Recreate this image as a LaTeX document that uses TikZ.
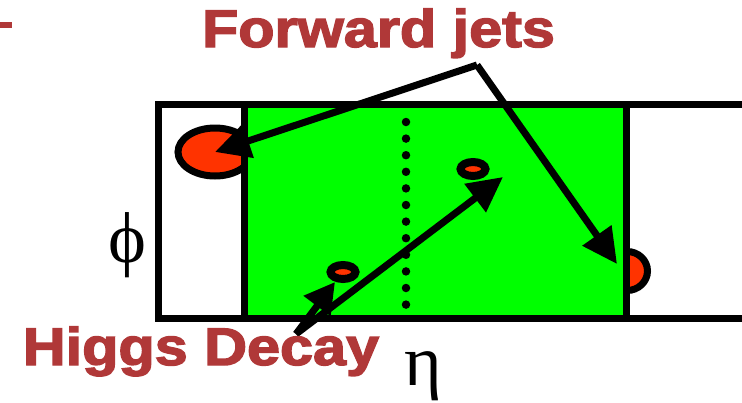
\documentclass[tikz,border=0pt]{standalone}
\usepackage{fontspec}
\setmainfont{Liberation Serif}
\newfontfamily\labelfont{Liberation Sans Bold}[FakeBold=2.5]
\usetikzlibrary{shapes.geometric,arrows.meta}

\definecolor{jetred}{RGB}{255,51,0}
\definecolor{titlered}{RGB}{176,56,56}
\definecolor{calgreen}{RGB}{0,255,0}

\begin{document}
\begin{tikzpicture}[
  x=1pt, y=-1pt,
  heading/.style={font=\labelfont\fontsize{53}{60}\selectfont, text=titlered, inner sep=0pt, anchor=base},
  axislabel/.style={font=\fontsize{72}{80}\selectfont, inner sep=0pt, anchor=base},
  jet/.style={ellipse, draw=black, line width=7pt, fill=jetred, inner sep=0pt},
  blob/.style={ellipse, draw=black, line width=8pt, fill=jetred, inner sep=0pt,
               minimum width=25pt, minimum height=14pt},
  arr/.style={-{Triangle[length=35pt,width=34pt]}, line width=7pt, draw=black}
]
\clip (0,0) rectangle (742,402);

% calorimeter in eta-phi
\draw[line width=7pt, fill=white] (158,104) rectangle (770,318);
\node[jet, minimum width=74pt, minimum height=48pt] (jetL) at (215,152) {};
\node[jet, minimum width=41pt, minimum height=39pt] (jetR) at (627,271) {};
\draw[line width=7pt, fill=calgreen] (244,104) rectangle (626,318);
\draw[line width=8.5pt, line cap=round, dash pattern=on 0pt off 16.6pt] (406,122) -- (406,310);

\node[blob] (hA) at (473,169) {};
\node[blob] (hB) at (343,272) {};

\fill[titlered] (0,22) rectangle (12,28);

% arrows
\coordinate (apex) at (477,65);
\coordinate (hitR) at (617,264);
\coordinate (orig) at (296,334);
\coordinate (tipA) at (503,177);
\coordinate (tipB) at (335,282);
\draw[arr] (apex) -- (jetL.center);
\draw[arr] (apex) -- (hitR);
\draw[arr] (orig) -- (tipA);
\draw[arr, -{Triangle[length=30pt,width=32pt]}] (orig) -- (tipB);

% labels
\node[heading] (fwd) at (378.5,47) {\scalebox{1.12}[1]{Forward jets}};
\node[heading] (higgs) at (201,365) {\scalebox{1.12}[1]{Higgs Decay}};
\node[axislabel] (phi) at (127.5,262) {ϕ};
\node[axislabel] (eta) at (423,385) {η};
\end{tikzpicture}
\end{document}
